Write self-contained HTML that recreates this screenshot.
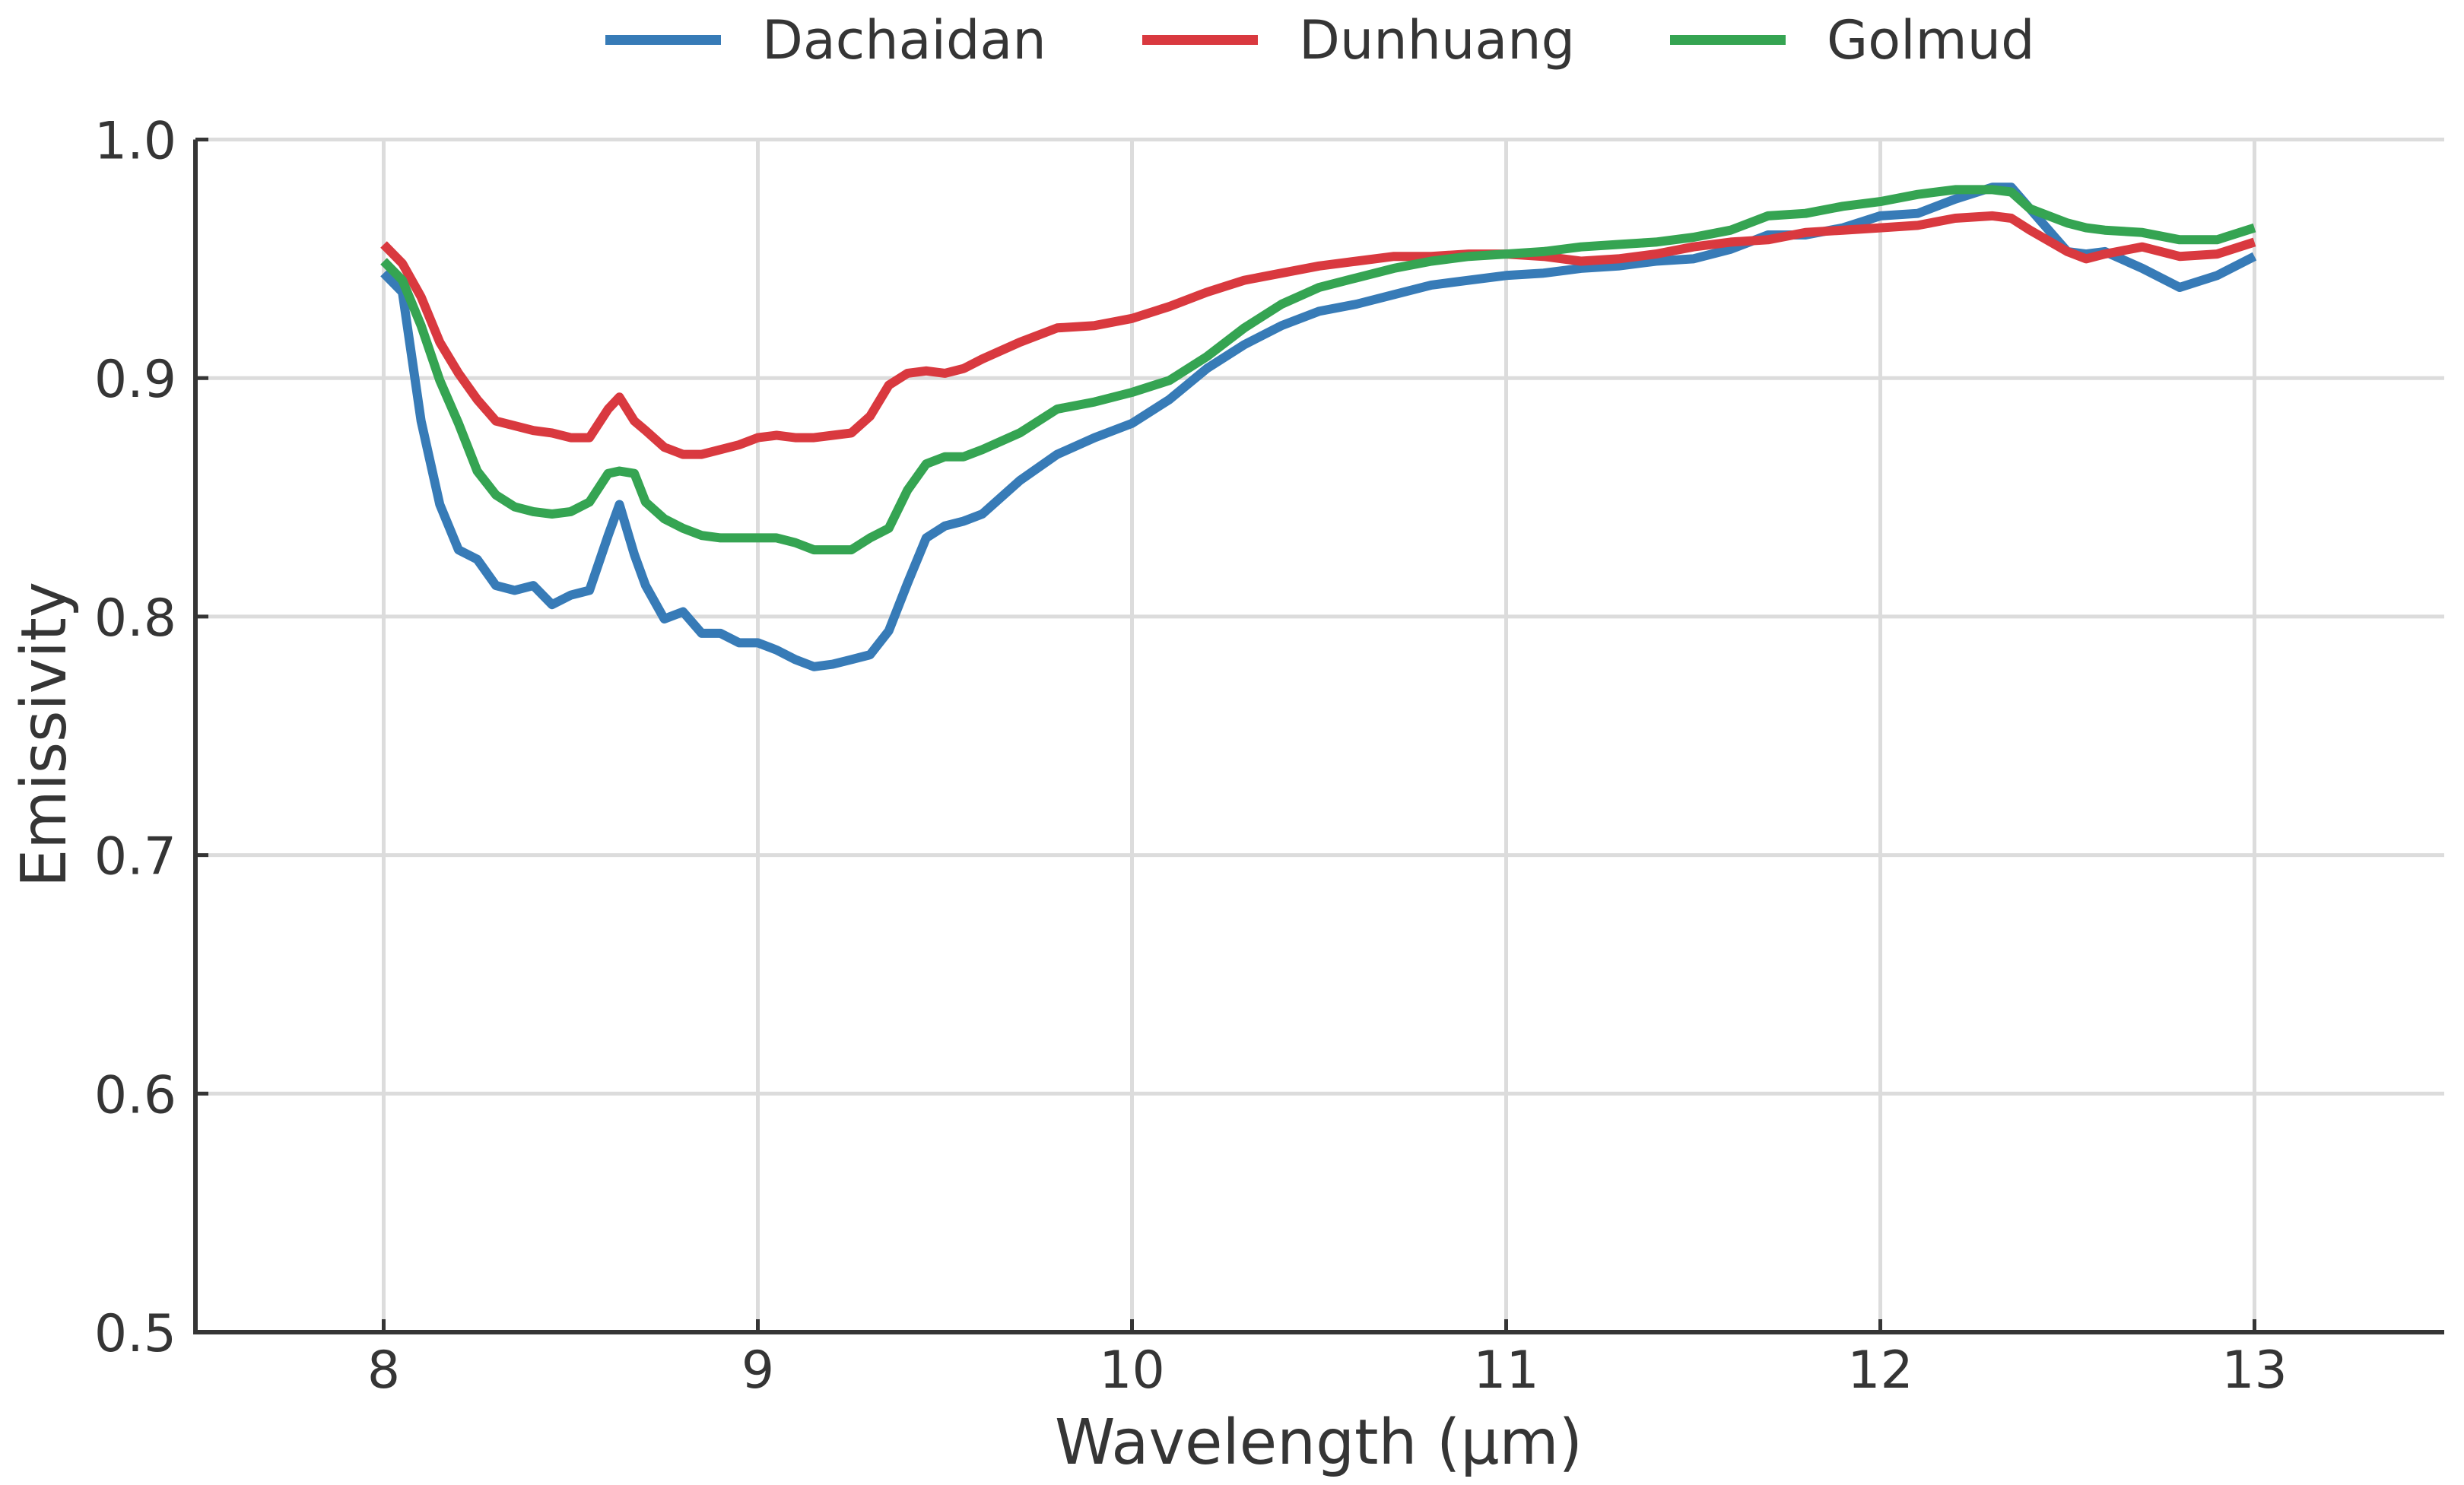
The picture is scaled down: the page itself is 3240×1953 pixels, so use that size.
<!DOCTYPE html>
<html><head><meta charset="utf-8"><style>
html,body{margin:0;padding:0;background:#fff;}
svg{display:block;font-family:"DejaVu Sans","Liberation Sans",sans-serif;}
</style></head><body>
<svg id="chart" width="3240" height="1953" viewBox="0 0 3240 1953" xmlns="http://www.w3.org/2000/svg">
<g id="grid"></g>
<g id="series"></g>
<g id="axes"></g>
<text x="1734" y="1925" text-anchor="middle" font-size="82" fill="#353535" textLength="694" lengthAdjust="spacingAndGlyphs">Wavelength (µm)</text>
<text transform="translate(86,966) rotate(-90)" text-anchor="middle" font-size="82" fill="#353535" textLength="402" lengthAdjust="spacingAndGlyphs">Emissivity</text>
<g id="legend"></g>
</svg>
<script>
const wavelengths = [8.00,8.05,8.10,8.15,8.20,8.25,8.30,8.35,8.40,8.45,8.50,8.55,8.60,8.63,8.67,8.70,8.75,8.80,8.85,8.90,8.95,9.00,9.05,9.10,9.15,9.20,9.25,9.30,9.35,9.40,9.45,9.50,9.55,9.60,9.7,9.8,9.9,10.0,10.1,10.2,10.3,10.4,10.5,10.6,10.7,10.8,10.9,11.0,11.1,11.2,11.3,11.4,11.5,11.6,11.7,11.8,11.9,12.0,12.1,12.2,12.3,12.35,12.4,12.5,12.55,12.6,12.7,12.8,12.9,13.0];
const dachaidan = [.944,.936,.882,.847,.828,.824,.813,.811,.813,.805,.809,.811,.834,.847,.826,.813,.799,.802,.793,.793,.789,.789,.786,.782,.779,.780,.782,.784,.794,.814,.833,.838,.840,.843,.857,.868,.875,.881,.891,.904,.914,.922,.928,.931,.935,.939,.941,.943,.944,.946,.947,.949,.950,.954,.960,.960,.963,.968,.969,.975,.980,.980,.971,.953,.952,.953,.946,.938,.943,.951];
const dunhuang = [.956,.948,.934,.915,.902,.891,.882,.880,.878,.877,.875,.875,.887,.892,.882,.878,.871,.868,.868,.870,.872,.875,.876,.875,.875,.876,.877,.884,.897,.902,.903,.902,.904,.908,.915,.921,.922,.925,.930,.936,.941,.944,.947,.949,.951,.951,.952,.952,.951,.949,.950,.952,.955,.957,.958,.961,.962,.963,.964,.967,.968,.967,.962,.953,.950,.952,.955,.951,.952,.957];
const golmud = [.949,.941,.922,.899,.881,.861,.851,.846,.844,.843,.844,.848,.860,.861,.860,.848,.841,.837,.834,.833,.833,.833,.833,.831,.828,.828,.828,.833,.837,.853,.864,.867,.867,.870,.877,.887,.890,.894,.899,.909,.921,.931,.938,.942,.946,.949,.951,.952,.953,.955,.956,.957,.959,.962,.968,.969,.972,.974,.977,.979,.979,.978,.971,.965,.963,.962,.961,.958,.958,.963];
const seriesNames = ["Dachaidan","Dunhuang","Golmud"];
const xTicks = [8,9,10,11,12,13];
const xTickLabels = ["8","9","10","11","12","13"];
const yTicks = [0.5,0.6,0.7,0.8,0.9,1.0];
const yTickLabels = ["0.5","0.6","0.7","0.8","0.9","1.0"];

const NS = "http://www.w3.org/2000/svg";
const X0=257, X1=3214, Y0=1752, Y1=183.5;
function xs(v){ return 504.5 + 492*(v-8); }
function ys(v){ return Y1 + (Y0-Y1)*(1-v)/0.5; }
function mk(tag, attrs, parent){ const e=document.createElementNS(NS,tag); for(const k in attrs) e.setAttribute(k,attrs[k]); parent.appendChild(e); return e; }

const grid=document.getElementById('grid'), axes=document.getElementById('axes'), ser=document.getElementById('series'), leg=document.getElementById('legend');
xTicks.forEach((t,i)=>{
  const g=mk('line',{x1:xs(t),x2:xs(t),y1:Y1,y2:Y0,stroke:'#dcdcdc','stroke-width':5},grid);
  
  
  const tk=mk('line',{x1:xs(t),x2:xs(t),y1:Y0,y2:Y0-17,stroke:'#353535','stroke-width':5},axes);
  
  
  const tx=mk('text',{x:xs(t),y:1825,'text-anchor':'middle','font-size':68,fill:'#353535'},axes);
  tx.textContent=xTickLabels[i];
  
  
});
yTicks.forEach((t,i)=>{
  if(t>0.5){
    const g=mk('line',{x1:X0,x2:X1,y1:ys(t),y2:ys(t),stroke:'#dcdcdc','stroke-width':5},grid);
    
    
  }
  const tk=mk('line',{x1:X0,x2:X0+17,y1:ys(t),y2:ys(t),stroke:'#353535','stroke-width':5},axes);
  
  
  const tx=mk('text',{x:232,y:ys(t)+25,'text-anchor':'end','font-size':68,fill:'#353535'},axes);
  tx.textContent=yTickLabels[i];
  
  
});
const sp1=mk('line',{x1:X0,x2:X0,y1:Y1,y2:Y0+3,stroke:'#353535','stroke-width':6},axes);


const sp2=mk('line',{x1:X0-3,x2:X1,y1:Y0,y2:Y0,stroke:'#353535','stroke-width':6},axes);



const colors=['#377bb7','#d9393f','#35a452'];
const data=[dachaidan,dunhuang,golmud];
data.forEach((arr,si)=>{
  const d=arr.map((v,i)=>(i?'L':'M')+xs(wavelengths[i]).toFixed(1)+','+ys(v).toFixed(1)).join(' ');
  const p=mk('path',{d:d,fill:'none',stroke:colors[si],'stroke-width':12,'stroke-linejoin':'round','stroke-linecap':'butt'},ser);
  
  
});
const legX=[796,1502,2196];
seriesNames.forEach((n,i)=>{
  const l=mk('line',{x1:legX[i],x2:legX[i]+152,y1:52.5,y2:52.5,stroke:colors[i],'stroke-width':13},leg);
  
  
  const t=mk('text',{x:legX[i]+206,y:77,'font-size':70,fill:'#353535'},leg);
  t.textContent=n;
  
  
});
</script>
</body></html>
